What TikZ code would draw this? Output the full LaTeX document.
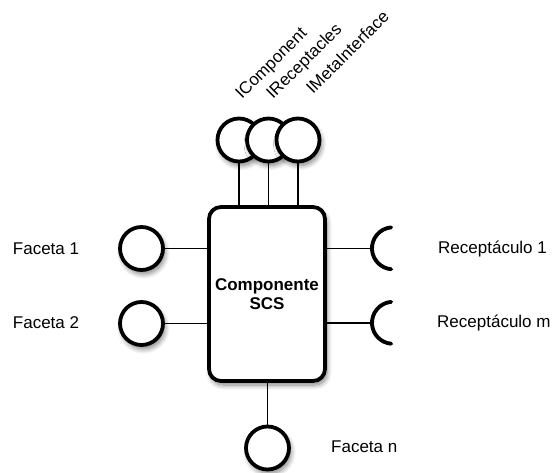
\documentclass[tikz,border=0pt]{standalone}
\usepackage{fontspec}
\setmainfont{Liberation Sans}
\usetikzlibrary{shadows.blur}
\begin{document}
\begin{tikzpicture}[x=1pt, y=1pt,
    soft/.style = {blur shadow={shadow blur steps=8, shadow xshift=2pt, shadow yshift=-4pt, shadow opacity=50, shadow blur radius=5pt}},
    faceta/.style = {draw, circle, fill=white, line width=3.8pt, minimum size=43pt, inner sep=0pt, soft},
    recep/.style = {circle, minimum size=42pt, inner sep=0pt},
    comp/.style = {draw, rectangle, rounded corners=12pt, fill=white, line width=3.8pt,
        minimum width=116pt, minimum height=174pt, align=center, soft,
        font=\bfseries\fontsize{17}{19}\selectfont},
    lbl/.style = {inner sep=0pt, font=\fontsize{17}{20}\selectfont},
    ifc/.style = {lbl, rotate=45, anchor=base west},
    wire/.style = {line width=1.2pt},
    cup/.style = {line width=3.8pt, line cap=round}]
    \useasboundingbox (0,0) rectangle (556,472);

    % componente
    \node[comp] (box) at (267,178) {Componente\\SCS};

    % interfaces basicas
    \node[faceta] (1) at (239,332) {};
    \node[faceta] (2) at (268.5,332) {};
    \node[faceta] (3) at (298,332) {};
    \node[ifc] (n1) at (242,372) {IComponent};
    \node[ifc] (n2) at (273,372) {IReceptacles};
    \node[ifc] (n3) at (313,377) {IMetaInterface};
    \draw[wire] (1.south) -- (1.south |- box.north);
    \draw[wire] (2.south) -- (2.south |- box.north);
    \draw[wire] (3.south) -- (3.south |- box.north);

    % facetas
    \node[faceta] (f1) at (141.5,223.5) {};
    \node[faceta] (f2) at (141.5,148.5) {};
    \node[faceta] (fn) at (267.5,24) {};
    \node[lbl] (lf1) at (46,223) {Faceta 1};
    \node[lbl] (lf2) at (46,149) {Faceta 2};
    \node[lbl, anchor=west] (lfn) at (331,25) {Faceta n};
    \draw[wire] (f1.east) -- (f1 -| box.west);
    \draw[wire] (f2.east) -- (f2 -| box.west);
    \draw[wire] (fn.north) -- (fn |- box.south);

    % receptaculos
    \node[recep] (r1) at (393,223.5) {};
    \node[recep] (r2) at (393,149) {};
    \draw[cup, black!15, shift={(2pt,-3pt)}] (r1.95) arc[start angle=95, end angle=265, radius=21pt];
    \draw[cup, black!15, shift={(2pt,-3pt)}] (r2.95) arc[start angle=95, end angle=265, radius=21pt];
    \draw[cup] (r1.95) arc[start angle=95, end angle=265, radius=21pt];
    \draw[cup] (r2.95) arc[start angle=95, end angle=265, radius=21pt];
    \node[lbl, anchor=west] (lr1) at (438,223) {Receptáculo 1};
    \node[lbl, anchor=west] (lr2) at (437,149) {Receptáculo m};
    \draw[wire] (box.east |- r1) -- (r1.west);
    \draw[wire] (box.east |- r2) -- (r2.west);
\end{tikzpicture}
\end{document}
